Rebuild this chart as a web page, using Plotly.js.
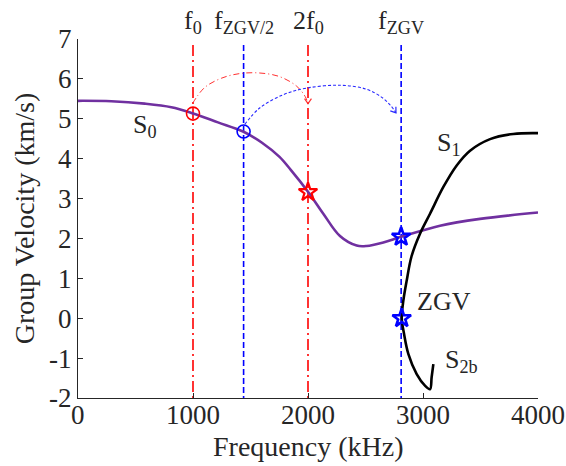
<!DOCTYPE html>
<html>
<head>
<meta charset="utf-8">
<script src="https://cdn.plot.ly/plotly-3.0.1.min.js"></script>
<style>html,body{margin:0;padding:0;background:#fff;}#chart{width:566px;height:466px;}</style>
</head>
<body>
<div id="chart"></div>
<script>
// ---- data ----
const s0Freq = [0, 290, 580, 812, 994, 1217, 1435, 1600, 1750, 1850, 2003, 2133, 2278, 2423, 2510, 2655, 2809, 3148, 3496, 4000];
const s0Vel  = [5.45, 5.44, 5.38, 5.29, 5.14, 4.91, 4.68, 4.40, 4.05, 3.72, 3.16, 2.62, 2.06, 1.82, 1.81, 1.90, 2.04, 2.32, 2.49, 2.65];

const s1Freq = [4000, 3785, 3583, 3409, 3293, 3177, 3061, 2974, 2901, 2858, 2829, 2815, 2835, 2873, 2945, 3017, 3061, 3075, 3090];
const s1Vel  = [4.64, 4.62, 4.49, 4.20, 3.83, 3.29, 2.62, 2.12, 1.56, 0.94, 0.44, 0.00, -0.39, -0.90, -1.40, -1.69, -1.78, -1.48, -1.15];

const markFreq = { f0: 1000, fZGV2: 1440, f2: 2000, fZGV: 2810 };
const vTop = 6.85;

const redCircle  = { x: [1000], y: [5.13] };
const blueCircle = { x: [1440], y: [4.68] };
const redStar    = { x: [2000], y: [3.16] };
const blueStars  = { x: [2810, 2815], y: [2.04, 0.0] };

const redArcX  = [995, 1100, 1250, 1400, 1570, 1750, 1900, 1975, 2000];
const redArcY  = [5.38, 5.78, 6.02, 6.13, 6.15, 6.06, 5.82, 5.56, 5.38];
const blueArcX = [1450, 1580, 1790, 1990, 2280, 2510, 2650, 2725, 2765];
const blueArcY = [4.86, 5.27, 5.61, 5.77, 5.84, 5.74, 5.52, 5.31, 5.15];

const xTickVals = [0, 1000, 2000, 3000, 4000];
const xTickText = ['0', '1000', '2000', '3000', '4000'];
const yTickVals = [-2, -1, 0, 1, 2, 3, 4, 5, 6, 7];
const yTickText = ['-2', '-1', '0', '1', '2', '3', '4', '5', '6', '7'];

const topLabels = [
  { x: 1000, text: 'f<sub>0</sub>' },
  { x: 1440, text: 'f<sub>ZGV/2</sub>' },
  { x: 2000, text: '2f<sub>0</sub>' },
  { x: 2810, text: 'f<sub>ZGV</sub>' }
];
const curveLabels = [
  { x: 461, y: 4.82, text: 'S<sub>0</sub>' },
  { x: 3104, y: 4.38, text: 'S<sub>1</sub>' },
  { x: 2930, y: 0.42, text: 'ZGV' },
  { x: 3174, y: -1.08, text: 'S<sub>2b</sub>' }
];

// ---- layout constants ----
const W = 566, H = 466;
const M = { l: 78, r: 28, t: 39, b: 68 };
const xRange = [0, 4000], yRange = [-2, 7];
const plotW = W - M.l - M.r, plotH = H - M.t - M.b;
const pxX = plotW / (xRange[1] - xRange[0]);
const pxY = plotH / (yRange[1] - yRange[0]);
const FONT = 'Liberation Serif';
const AX = '#262626';

function arrowHead(xs, ys, lenPx, halfDeg, dirDeg) {
  const n = xs.length;
  let a;
  if (dirDeg !== undefined) { a = dirDeg * Math.PI / 180; }
  else {
    const dx = (xs[n-1] - xs[n-2]) * pxX, dy = (ys[n-1] - ys[n-2]) * pxY;
    a = Math.atan2(dy, dx);
  }
  const back = a + Math.PI, h = halfDeg * Math.PI / 180;
  const tx = xs[n-1], ty = ys[n-1];
  const p1 = [tx + Math.cos(back + h) * lenPx / pxX, ty + Math.sin(back + h) * lenPx / pxY];
  const p2 = [tx + Math.cos(back - h) * lenPx / pxX, ty + Math.sin(back - h) * lenPx / pxY];
  return { x: [p1[0], tx, p2[0]], y: [p1[1], ty, p2[1]] };
}

const traces = [];
function vline(x, color, dash) {
  traces.push({ x: [x, x], y: [vTop, yRange[0]], mode: 'lines', line: { color: color, width: 1.6, dash: dash }, hoverinfo: 'skip' });
}
vline(markFreq.f0, '#ff0000', '11px,4px,2px,4px');
vline(markFreq.f2, '#ff0000', '11px,4px,2px,4px');
vline(markFreq.fZGV2, '#0000ff', '6px,3px');
vline(markFreq.fZGV, '#0000ff', '6px,3px');

traces.push({ x: redArcX, y: redArcY, mode: 'lines', line: { color: '#ff3030', width: 1, dash: '6px,3px,1px,3px', shape: 'spline' } });
const rh = arrowHead(redArcX, redArcY, 6, 35, -90);
traces.push({ x: rh.x, y: rh.y, mode: 'lines', line: { color: '#ff3030', width: 1.2 } });
traces.push({ x: blueArcX, y: blueArcY, mode: 'lines', line: { color: '#2a2aff', width: 1.1, dash: '3px,2px', shape: 'spline' } });
const bh = arrowHead(blueArcX, blueArcY, 6, 35);
traces.push({ x: bh.x, y: bh.y, mode: 'lines', line: { color: '#2a2aff', width: 1.2 } });

traces.push({ x: s0Freq, y: s0Vel, mode: 'lines', line: { color: '#7030a0', width: 2.6, shape: 'spline', smoothing: 1 } });
traces.push({ x: s1Freq, y: s1Vel, mode: 'lines', line: { color: '#000000', width: 2.6, shape: 'spline', smoothing: 1 } });

traces.push({ x: redCircle.x, y: redCircle.y, mode: 'markers', marker: { symbol: 'circle-open', size: 13, line: { color: '#ff0000', width: 1.6 }, color: '#ff0000' } });
traces.push({ x: blueCircle.x, y: blueCircle.y, mode: 'markers', marker: { symbol: 'circle-open', size: 13, line: { color: '#0000ff', width: 1.6 }, color: '#0000ff' } });
traces.push({ x: redStar.x, y: redStar.y, mode: 'markers', marker: { symbol: 'star-open', size: 14, line: { color: '#ff0000', width: 2.2 }, color: '#ff0000' } });
traces.push({ x: blueStars.x, y: blueStars.y, mode: 'markers', marker: { symbol: 'star-open', size: 14, line: { color: '#0000ff', width: 2.6 }, color: '#0000ff' } });

const annotations = [];
topLabels.forEach(l => annotations.push({
  x: l.x, xref: 'x', y: 1 + (M.t - 22) / plotH, yref: 'paper', yanchor: 'middle', xanchor: 'center',
  text: l.text, showarrow: false, font: { family: FONT, size: 26, color: AX }
}));
curveLabels.forEach(l => annotations.push({
  x: l.x, xref: 'x', y: l.y, yref: 'y', xanchor: 'left', yanchor: 'middle',
  text: l.text, showarrow: false, font: { family: FONT, size: 26, color: AX }
}));
// x tick labels, placed by the x scale just under the axis
xTickVals.forEach((v, i) => annotations.push({
  x: v, xref: 'x', y: -(415 - (H - M.b)) / plotH, yref: 'paper', yanchor: 'middle', xanchor: 'center',
  text: xTickText[i], showarrow: false, font: { family: FONT, size: 27, color: AX }
}));
// x axis title
annotations.push({
  x: 0.5, xref: 'paper', y: -(446 - (H - M.b)) / plotH, yref: 'paper', yanchor: 'middle', xanchor: 'center',
  text: 'Frequency (kHz)', showarrow: false, font: { family: FONT, size: 28, color: AX }
});

const layout = {
  width: W, height: H,
  margin: M,
  paper_bgcolor: '#ffffff', plot_bgcolor: '#ffffff',
  showlegend: false,
  font: { family: FONT, size: 26, color: AX },
  xaxis: {
    range: xRange, tickmode: 'array', tickvals: xTickVals, ticktext: xTickText, showticklabels: false,
    ticks: 'inside', ticklen: 5, tickwidth: 1, tickcolor: AX,
    showline: true, linecolor: AX, linewidth: 1.2, mirror: false,
    showgrid: false, zeroline: false
  },
  yaxis: {
    range: yRange, tickmode: 'array', tickvals: yTickVals, ticktext: yTickText,
    ticks: 'inside', ticklen: 5, tickwidth: 1, tickcolor: AX,
    showline: true, linecolor: AX, linewidth: 1.2, mirror: false,
    showgrid: false, zeroline: false,
    tickfont: { family: FONT, size: 27, color: AX },
    title: { text: 'Group Velocity (km/s)', font: { family: FONT, size: 28, color: AX }, standoff: 6 }
  },
  annotations: annotations
};

Plotly.newPlot('chart', traces, layout, { staticPlot: true, displayModeBar: false });
</script>
</body>
</html>
